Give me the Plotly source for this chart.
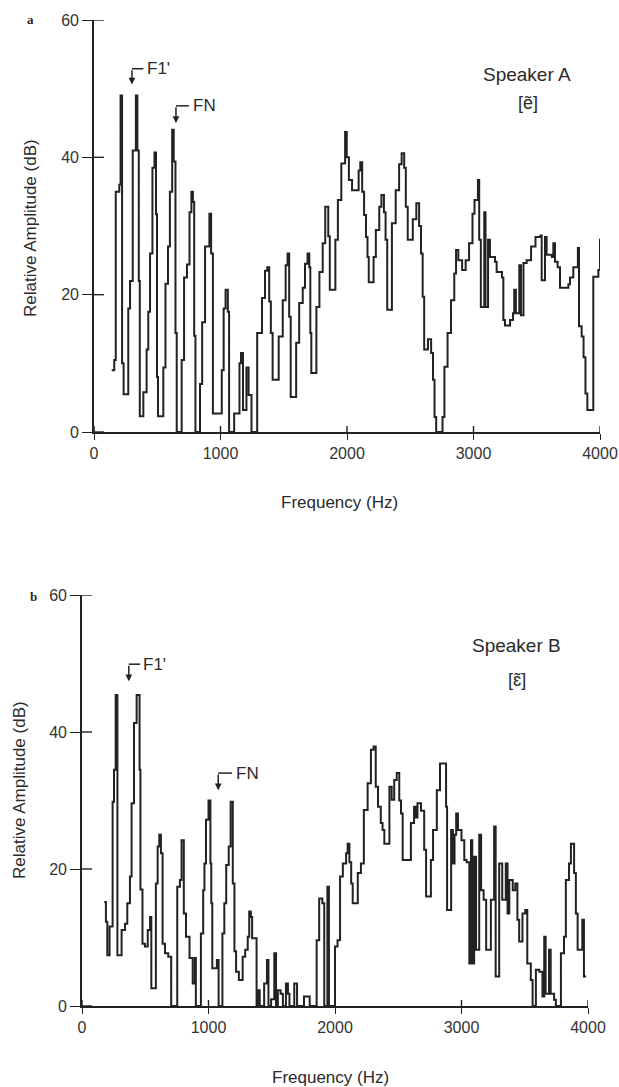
import plotly.graph_objects as go

# ---------------- data ----------------
freq_a = [140, 160, 172, 200, 210, 222, 234, 271, 285, 306, 331, 343, 354, 362, 390, 416, 429, 443, 462, 478,
          490, 498, 506, 548, 565, 585, 600, 618, 630, 644, 654, 693, 712, 735, 755, 770, 782, 792, 802, 838,
          855, 878, 912, 926, 940, 1010, 1025, 1040, 1058, 1068, 1108, 1150, 1162, 1178, 1205, 1222, 1245, 1290, 1328, 1352,
          1370, 1385, 1398, 1412, 1460, 1492, 1515, 1530, 1543, 1555, 1598, 1622, 1650, 1668, 1688, 1702, 1710, 1718, 1758, 1782,
          1808, 1828, 1852, 1864, 1908, 1928, 1955, 1985, 1998, 2015, 2040, 2092, 2105, 2120, 2135, 2150, 2162, 2172, 2210, 2228,
          2255, 2272, 2292, 2305, 2318, 2355, 2385, 2412, 2432, 2452, 2465, 2480, 2520, 2548, 2570, 2585, 2598, 2610, 2640, 2665,
          2680, 2692, 2705, 2755, 2770, 2795, 2822, 2848, 2862, 2880, 2910, 2938, 2965, 2992, 3008, 3035, 3045, 3058, 3085, 3095,
          3115, 3130, 3170, 3183, 3225, 3236, 3249, 3289, 3312, 3322, 3335, 3362, 3375, 3395, 3420, 3455, 3490, 3530, 3539, 3565,
          3578, 3620, 3631, 3644, 3665, 3684, 3750, 3763, 3789, 3825, 3834, 3855, 3870, 3885, 3900, 3947, 3987, 4000, 4015, 4025]
amp_a = [9, 10.5, 35, 36, 49, 10, 5.5, 18, 22, 41, 49, 41, 22, 2.3, 5.8, 12, 17.5, 26, 38.5, 40.7,
         31.7, 8, 2.3, 9.4, 21.6, 27, 35, 44, 39.4, 14.4, 0, 10.5, 22.5, 24.4, 32, 35, 33.5, 14, 0, 7,
         16, 27, 31.8, 26, 2.7, 9, 18, 20.7, 17.5, 0, 2.7, 10, 11.5, 3.2, 9.4, 5.4, 0, 14.4, 19.5, 23.5,
         24, 19, 14.4, 7.6, 13.9, 19.2, 24.3, 26, 16.8, 5.1, 13, 18.8, 21, 24.5, 26, 24, 14.4, 8.6, 18.2, 23.3,
         27.5, 32.8, 28.5, 20.7, 28, 33.8, 39.1, 43.7, 40, 36.7, 35.2, 38.1, 39.3, 35, 31.6, 28.4, 25.5, 21.8, 25.5, 29.4,
         32.8, 34.5, 32, 28, 17.8, 30.4, 35.2, 39, 40.6, 38.5, 32.8, 28, 31, 33.3, 30, 26, 19.7, 12, 13.5, 11.5,
         7.6, 2.2, 0, 2.2, 9.5, 14.4, 19.2, 23.1, 26.5, 25, 23.6, 25, 27.5, 31.8, 33.8, 36.7, 28, 18.2, 32, 18.2,
         28, 25.5, 24.8, 23.3, 22.5, 16.3, 15.5, 16.3, 17.3, 20.7, 17.3, 24.3, 17, 24.6, 25, 27, 28.4, 28.6, 22.1, 28.4,
         25.8, 25.5, 27.5, 24.8, 24, 21, 21.5, 22.5, 24, 26.8, 15.4, 13.9, 10.9, 5.6, 3.2, 22.6, 23.6, 28, 28.7, 28.7]

freq_b = [176, 189, 200, 218, 242, 253, 266, 280, 313, 340, 358, 379, 392, 411, 432, 455, 462, 478, 498, 520,
          538, 548, 584, 598, 611, 624, 637, 656, 682, 705, 753, 774, 787, 805, 822, 850, 875, 892, 900, 940,
          958, 968, 980, 1000, 1015, 1022, 1030, 1066, 1080, 1110, 1125, 1140, 1160, 1175, 1192, 1205, 1218, 1240, 1270, 1290,
          1310, 1322, 1335, 1345, 1380, 1393, 1405, 1440, 1462, 1474, 1495, 1520, 1534, 1548, 1570, 1588, 1612, 1628, 1640, 1678,
          1700, 1755, 1800, 1855, 1875, 1900, 1915, 1940, 1952, 2000, 2020, 2040, 2062, 2088, 2100, 2114, 2128, 2140, 2180, 2205,
          2228, 2258, 2284, 2305, 2322, 2340, 2362, 2376, 2390, 2430, 2448, 2468, 2488, 2508, 2522, 2535, 2600, 2625, 2640, 2652,
          2680, 2705, 2720, 2758, 2775, 2805, 2830, 2878, 2886, 2918, 2932, 2945, 2958, 2972, 3000, 3022, 3040, 3062, 3075, 3085,
          3100, 3115, 3140, 3155, 3175, 3195, 3232, 3258, 3270, 3298, 3322, 3350, 3364, 3378, 3405, 3425, 3442, 3456, 3482, 3504,
          3520, 3548, 3562, 3588, 3615, 3640, 3654, 3665, 3692, 3705, 3732, 3746, 3786, 3810, 3825, 3850, 3865, 3890, 3904, 3918,
          3955, 3968, 3985]
amp_b = [15.2, 12.3, 7.4, 11.6, 29.8, 34.5, 45.4, 7.4, 11.1, 12, 15, 18.9, 29.6, 41.3, 45.4, 34.5, 17, 9.1, 8.7, 11.1,
         13, 2.6, 17.9, 23.3, 25, 22.3, 9.1, 7.7, 7.2, 0, 17.4, 18.4, 24.2, 13.5, 10.1, 7, 3.3, 7, 0, 10.6,
         16.9, 20.8, 27.2, 30, 20.8, 15, 5.5, 6.7, 0, 10.6, 15, 20.6, 23.3, 29.8, 17.9, 8, 5, 3.8, 7.2, 8.2,
         10.1, 13.8, 13, 9.9, 0, 2.3, 0, 3.3, 6.7, 0, 1, 7.7, 0, 2.3, 1.8, 0, 3.3, 1.8, 0, 3.3,
         0, 1.4, 0, 9.6, 15.7, 15, 0, 17.4, 0, 8.7, 9.6, 18.9, 20.8, 22.3, 23.7, 21, 17.9, 15, 19.4, 20.8,
         28.6, 32.5, 37.4, 37.9, 32, 29.1, 26.7, 25.7, 23.7, 32, 30.1, 33, 34, 30, 28.1, 21.3, 26.7, 29.1, 27.5, 29.6,
         28.5, 22.8, 16, 21.3, 25.7, 31.5, 35.4, 29.1, 14, 25.7, 20.8, 25, 28.1, 25.7, 24.2, 21.3, 21, 6.2, 24.2, 6.2,
         21.8, 8.2, 25, 16.9, 15.5, 8.2, 15.5, 26.2, 4.3, 20.8, 15.5, 20.8, 13.5, 18.4, 16.9, 17.9, 12.6, 9.4, 13.5, 14,
         6.2, 3.8, 0, 5.3, 5, 1.4, 10.1, 1.8, 8.2, 1.8, 0.9, 0, 7.7, 10.1, 18.4, 20.8, 23.7, 19.4, 13.5, 8.2,
         12.6, 4.3, 4.3]

x_ticks = [0, 1000, 2000, 3000, 4000]
y_ticks = [0, 20, 40, 60]
x_title = "Frequency (Hz)"
y_title = "Relative Amplitude (dB)"

W, H = 619, 1087
FONT = "Liberation Sans, Arial, sans-serif"
INK = "#222222"

def px(v):
    return v / W

def py(v):
    return 1 - v / H

# plot-area pixel boxes (left, right, top, bottom)
box_a = (94, 600, 20, 432)
box_b = (82, 588, 595, 1006)

fig = go.Figure()
fig.add_trace(go.Scatter(x=freq_a, y=amp_a, mode="lines", line=dict(shape="hv", color=INK, width=2),
                         xaxis="x", yaxis="y", showlegend=False, hoverinfo="skip"))
fig.add_trace(go.Scatter(x=freq_b, y=amp_b, mode="lines", line=dict(shape="hv", color=INK, width=2),
                         xaxis="x2", yaxis="y2", showlegend=False, hoverinfo="skip"))

def xax(box, anchor):
    return dict(domain=[px(box[0]), px(box[1])], range=[0, 4000], anchor=anchor,
                tickvals=x_ticks, ticktext=[str(t) for t in x_ticks],
                ticks="outside", ticklen=6, tickwidth=1.4, tickcolor=INK,
                showline=True, linecolor=INK, linewidth=1.7, showgrid=False, zeroline=False,
                tickfont=dict(family=FONT, size=16, color="#333"), automargin=False)

def yax(box, anchor):
    return dict(domain=[py(box[3]), py(box[2])], range=[0, 60], anchor=anchor,
                tickvals=y_ticks, ticktext=[str(t) for t in y_ticks],
                ticks="outside", ticklen=10, tickwidth=1.4, tickcolor=INK,
                showline=True, linecolor=INK, linewidth=1.7, showgrid=False, zeroline=False,
                tickfont=dict(family=FONT, size=16, color="#333"), automargin=False)

fig.update_layout(
    width=W, height=H,
    margin=dict(l=0, r=0, t=0, b=0),
    paper_bgcolor="white", plot_bgcolor="rgba(0,0,0,0)",
    xaxis=xax(box_a, "y"), yaxis=yax(box_a, "x"),
    xaxis2=xax(box_b, "y2"), yaxis2=yax(box_b, "x2"),
)

ann = []
shapes = []

# inner halves of the crossing tick marks
for xa, ya, box in (("x", "y", box_a), ("x2", "y2", box_b)):
    wpx = box[1] - box[0]
    hpx = box[3] - box[2]
    for t in y_ticks:
        shapes.append(dict(type="line", xref=xa + " domain", yref=ya, x0=0, x1=10 / wpx, y0=t, y1=t,
                           line=dict(color=INK, width=1.4)))
    for t in x_ticks:
        shapes.append(dict(type="line", xref=xa, yref=ya + " domain", x0=t, x1=t, y0=0, y1=6 / hpx,
                           line=dict(color=INK, width=1.4)))

def text_paper(x, y, s, size, angle=0, family=FONT, weight="normal"):
    ann.append(dict(x=px(x), y=py(y), xref="paper", yref="paper", text=s, showarrow=False,
                    textangle=angle, xanchor="center", yanchor="middle",
                    font=dict(family=family, size=size, color="#2a2a2a", weight=weight)))

text_paper(30, 228, y_title, 17, angle=-90)
text_paper(19, 790, y_title, 17, angle=-90)
text_paper(340, 502, x_title, 17)
text_paper(330, 1077, x_title, 17)
text_paper(30, 20, "a", 13, family="Liberation Serif, serif", weight="bold")
text_paper(33, 596, "b", 13, family="Liberation Serif, serif", weight="bold")

def bracket(xa, ya, x0, y_top, y_tip, x1, label, tx):
    shapes.append(dict(type="line", xref=xa, yref=ya, x0=x0, x1=x1, y0=y_top, y1=y_top,
                       line=dict(color=INK, width=1.5)))
    ann.append(dict(x=x0, y=y_tip, ax=x0, ay=y_top, xref=xa, yref=ya, axref=xa, ayref=ya,
                    showarrow=True, arrowhead=2, arrowsize=0.9, arrowwidth=1.5, arrowcolor=INK, text=""))
    ann.append(dict(x=tx, y=y_top, xref=xa, yref=ya, text=label, showarrow=False, xanchor="left",
                    yanchor="middle", font=dict(family=FONT, size=17, color="#2a2a2a")))

bracket("x", "y", 300, 52.9, 50.6, 390, "F1'", 405)
bracket("x", "y", 648, 47.5, 45.0, 750, "FN", 765)
bracket("x2", "y2", 370, 49.9, 47.4, 460, "F1'", 470)
bracket("x2", "y2", 1077, 34.0, 31.5, 1185, "FN", 1200)

def label(xa, ya, x, y, s, size):
    ann.append(dict(x=x, y=y, xref=xa, yref=ya, text=s, showarrow=False, xanchor="center",
                    yanchor="middle", font=dict(family=FONT, size=size, color="#2a2a2a")))

label("x", "y", 3423, 52.1, "Speaker A", 19)
label("x", "y", 3431, 47.9, "[ẽ]", 18)
label("x2", "y2", 3437, 52.6, "Speaker B", 19)
label("x2", "y2", 3437, 47.6, "[ɛ̃]", 18)

fig.update_layout(annotations=ann, shapes=shapes)
fig.write_html("out.html")
